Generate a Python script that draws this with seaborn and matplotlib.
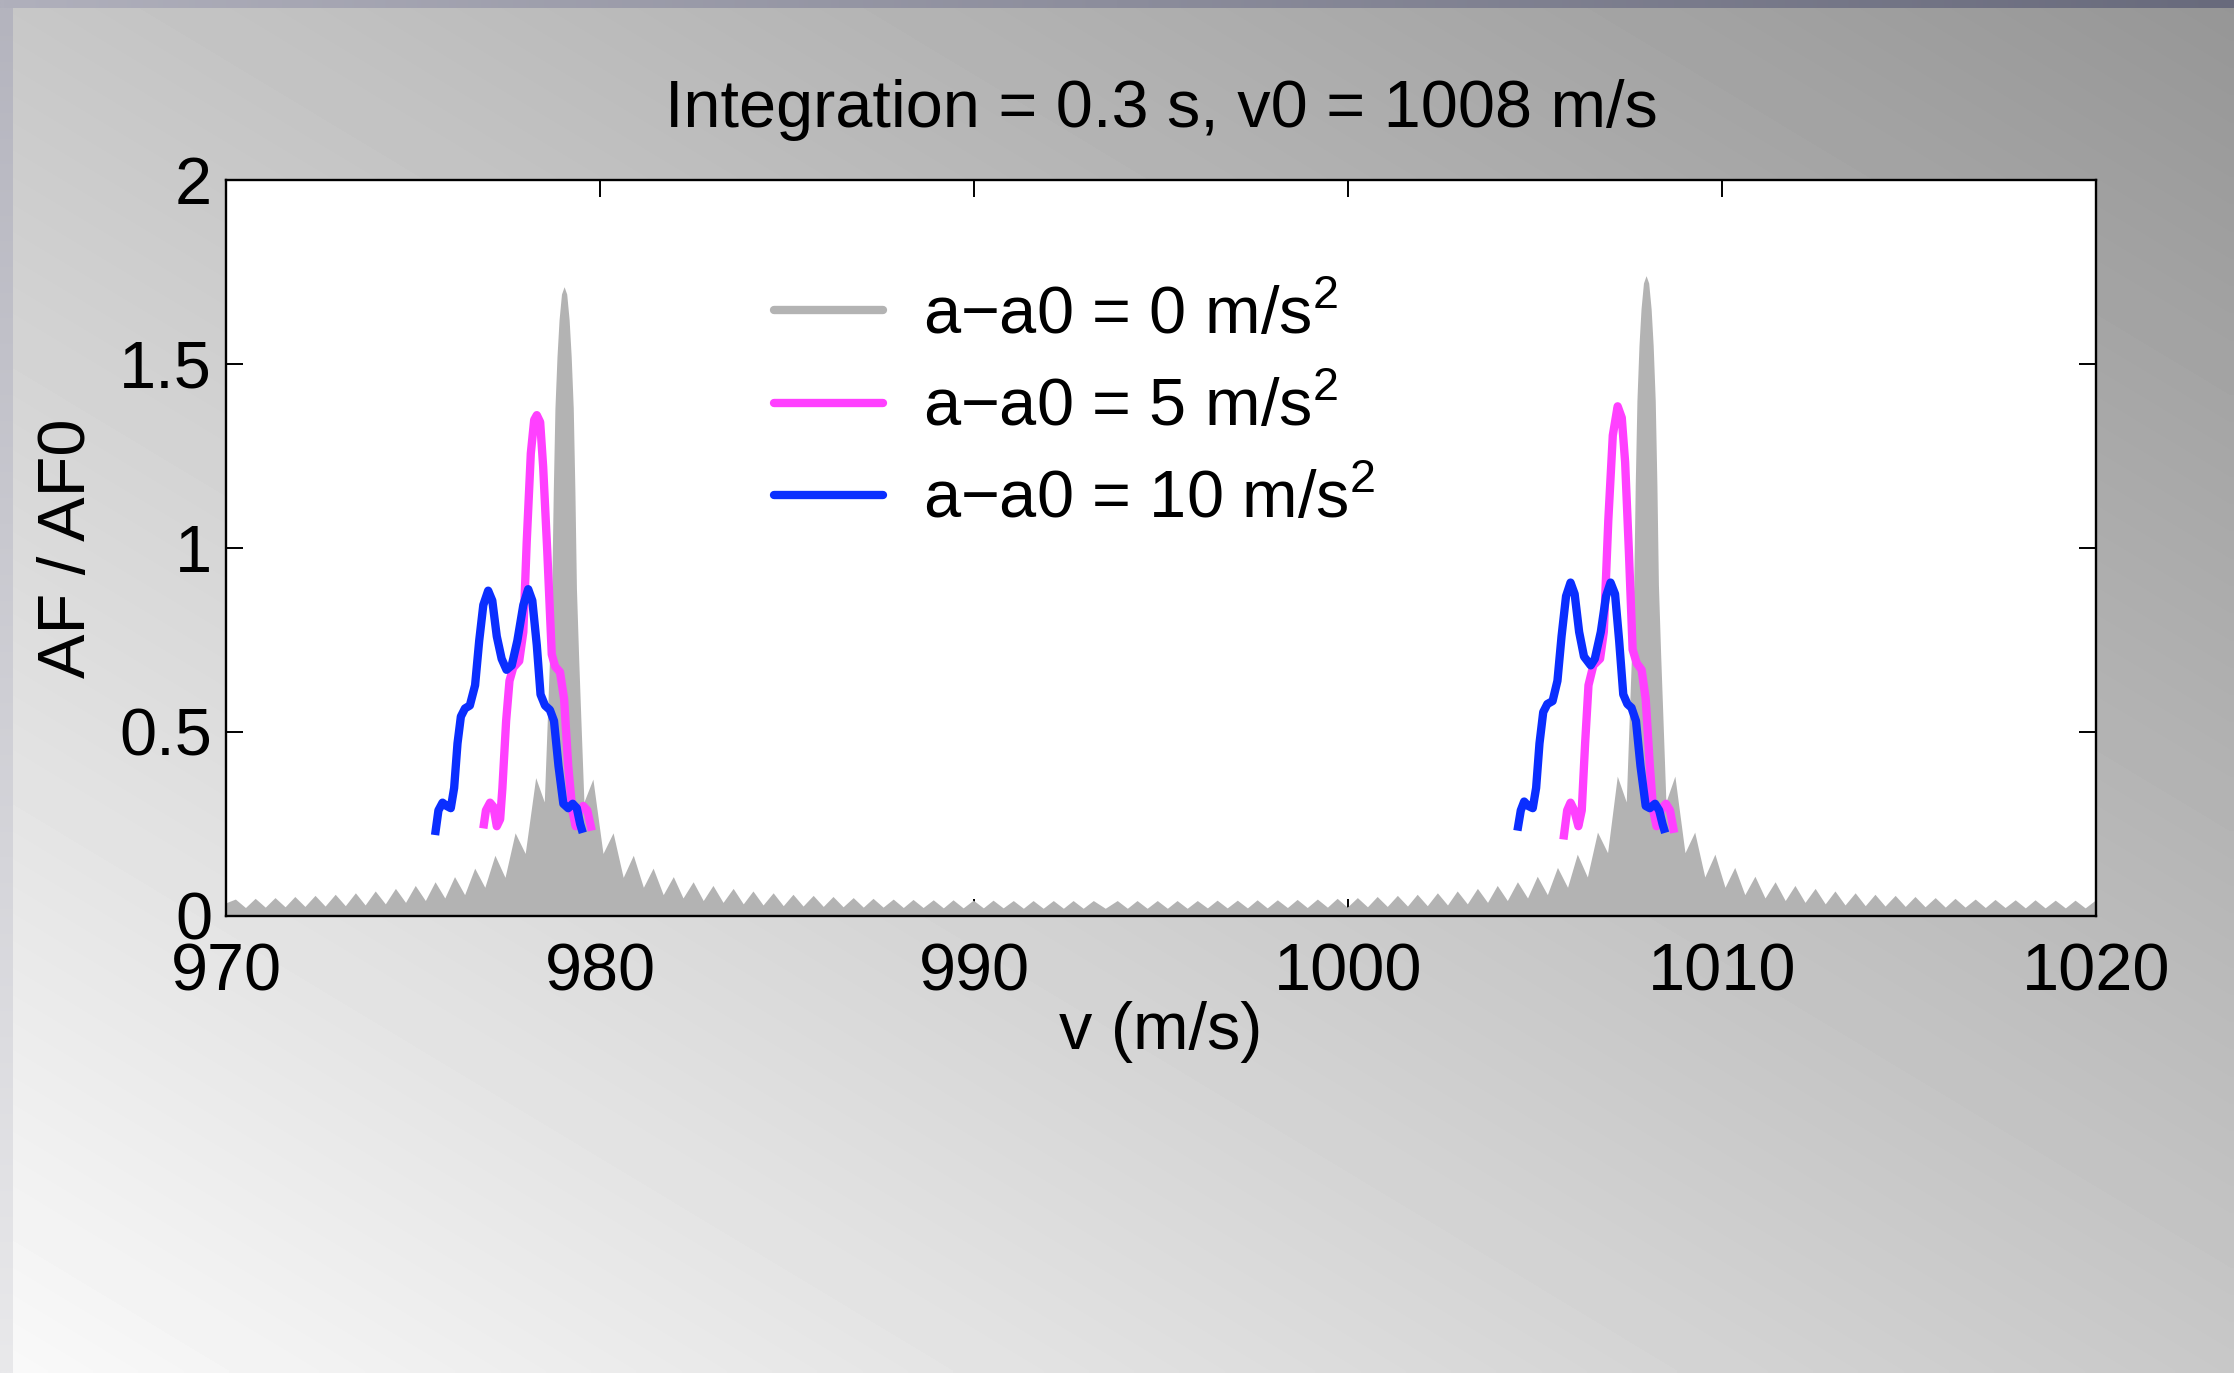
import numpy as np
import pandas as pd
import matplotlib
matplotlib.use("Agg")
import matplotlib.pyplot as plt
from matplotlib.lines import Line2D
import seaborn as sns

# ---------------- data ----------------
title_text = "Integration = 0.3 s, v0 = 1008 m/s"
x_ticks = [970, 980, 990, 1000, 1010, 1020]
y_ticks = [0, 0.5, 1, 1.5, 2]
y_tick_labels = ["0", "0.5", "1", "1.5", "2"]
series_labels = ["a\u2212a0 = 0 m/s$^{\\mathregular{2}}$",
                 "a\u2212a0 = 5 m/s$^{\\mathregular{2}}$",
                 "a\u2212a0 = 10 m/s$^{\\mathregular{2}}$"]

# a-a0 = 0 : filled grey array factor (peaks and cusps)
gray_v = [
    970.00, 970.25, 970.52, 970.78, 971.05, 971.31, 971.58, 971.84, 972.11, 972.38,
    972.65, 972.92, 973.19, 973.46, 973.72, 973.99, 974.26, 974.53, 974.80, 975.06,
    975.33, 975.59, 975.85, 976.11, 976.38, 976.65, 976.92, 977.19, 977.46, 977.73,
    978.00, 978.28, 978.51,
    978.59, 978.65, 978.71, 978.75, 978.795, 978.85, 978.905, 978.97, 979.04, 979.11,
    979.175, 979.23, 979.285, 979.33, 979.37, 979.43, 979.49, 979.57,
    979.81, 980.08, 980.35, 980.62, 980.89, 981.16, 981.42, 981.69, 981.96, 982.22,
    982.49, 982.76, 983.02, 983.29, 983.56, 983.83, 984.09, 984.36, 984.63, 984.90,
    985.16, 985.43, 985.70, 985.97, 986.23, 986.50, 986.77, 987.04, 987.30, 987.57,
    987.84, 988.11, 988.37, 988.64, 988.91, 989.18, 989.44, 989.71, 989.98, 990.25,
    990.51, 990.78, 991.05, 991.32, 991.58, 991.85, 992.12, 992.39, 992.65, 992.92,
    993.19, 993.51, 993.83, 994.10, 994.36, 994.63, 994.90, 995.17, 995.43, 995.70,
    995.97, 996.24, 996.50, 996.77, 997.04, 997.31, 997.57, 997.84, 998.11, 998.38,
    998.64, 998.91, 999.18, 999.45, 999.71, 999.98, 1000.25, 1000.52, 1000.78, 1001.05,
    1001.32, 1001.59, 1001.85, 1002.12, 1002.39, 1002.66, 1002.92, 1003.19, 1003.46, 1003.73,
    1003.99, 1004.26, 1004.53, 1004.80, 1005.06, 1005.33, 1005.60, 1005.87, 1006.13, 1006.40,
    1006.67, 1006.94, 1007.20, 1007.44,
    1007.52, 1007.58, 1007.64, 1007.68, 1007.725, 1007.78, 1007.835, 1007.90, 1007.97, 1008.04,
    1008.105, 1008.16, 1008.215, 1008.26, 1008.30, 1008.36, 1008.42, 1008.50,
    1008.74, 1009.01, 1009.27, 1009.54, 1009.81, 1010.08, 1010.34, 1010.61, 1010.88, 1011.15,
    1011.42, 1011.69, 1011.95, 1012.22, 1012.49, 1012.76, 1013.02, 1013.29, 1013.56, 1013.83,
    1014.09, 1014.36, 1014.63, 1014.90, 1015.16, 1015.43, 1015.70, 1015.97, 1016.23, 1016.50,
    1016.77, 1017.04, 1017.30, 1017.57, 1017.84, 1018.11, 1018.37, 1018.64, 1018.91, 1019.18,
    1019.44, 1019.71, 1019.98, 1020.00]
gray_af = [
    0.036, 0.046, 0.023, 0.048, 0.024, 0.050, 0.025, 0.053, 0.026, 0.056,
    0.027, 0.059, 0.028, 0.063, 0.030, 0.068, 0.033, 0.075, 0.037, 0.083,
    0.042, 0.093, 0.049, 0.107, 0.058, 0.130, 0.078, 0.165, 0.105, 0.226,
    0.170, 0.376, 0.310,
    0.530, 0.700, 0.890, 1.150, 1.380, 1.520, 1.620, 1.690, 1.710, 1.690,
    1.620, 1.520, 1.380, 1.150, 0.890, 0.700, 0.530, 0.310,
    0.372, 0.170, 0.226, 0.105, 0.165, 0.078, 0.130, 0.058, 0.107, 0.049,
    0.093, 0.042, 0.083, 0.037, 0.075, 0.033, 0.068, 0.030, 0.063, 0.028,
    0.059, 0.027, 0.056, 0.026, 0.053, 0.025, 0.050, 0.024, 0.048, 0.024,
    0.046, 0.023, 0.045, 0.023, 0.044, 0.022, 0.044, 0.022, 0.043, 0.022,
    0.043, 0.022, 0.042, 0.021, 0.042, 0.021, 0.042, 0.021, 0.042, 0.021,
    0.042, 0.021, 0.042, 0.021, 0.042, 0.021, 0.042, 0.021, 0.042, 0.021,
    0.042, 0.022, 0.043, 0.022, 0.043, 0.022, 0.044, 0.022, 0.044, 0.023,
    0.045, 0.023, 0.046, 0.024, 0.048, 0.024, 0.050, 0.025, 0.053, 0.026,
    0.056, 0.027, 0.059, 0.028, 0.063, 0.030, 0.068, 0.033, 0.075, 0.037,
    0.083, 0.042, 0.093, 0.049, 0.108, 0.058, 0.132, 0.078, 0.168, 0.106,
    0.228, 0.172, 0.380, 0.310,
    0.540, 0.710, 0.900, 1.170, 1.400, 1.550, 1.650, 1.720, 1.740, 1.720,
    1.650, 1.550, 1.400, 1.170, 0.900, 0.710, 0.540, 0.310,
    0.380, 0.172, 0.228, 0.106, 0.168, 0.078, 0.132, 0.058, 0.108, 0.049,
    0.093, 0.042, 0.083, 0.037, 0.075, 0.033, 0.068, 0.030, 0.063, 0.028,
    0.059, 0.027, 0.056, 0.026, 0.053, 0.025, 0.050, 0.024, 0.048, 0.024,
    0.046, 0.023, 0.045, 0.023, 0.044, 0.022, 0.044, 0.022, 0.043, 0.022,
    0.043, 0.022, 0.043, 0.043]

# a-a0 = 5 : magenta, two segments
mag_left_v = [976.88, 976.95, 977.06, 977.15, 977.24, 977.33, 977.39, 977.49, 977.58, 977.68,
              977.84, 977.95, 978.04, 978.15, 978.24, 978.31, 978.40, 978.48, 978.59, 978.71,
              978.80, 978.93, 979.04, 979.15, 979.26, 979.35, 979.45, 979.55, 979.66, 979.78]
mag_left_af = [0.238, 0.287, 0.308, 0.297, 0.244, 0.263, 0.347, 0.530, 0.639, 0.675,
               0.693, 0.772, 1.015, 1.257, 1.348, 1.361, 1.342, 1.221, 0.991, 0.711,
               0.678, 0.663, 0.590, 0.408, 0.287, 0.244, 0.287, 0.299, 0.287, 0.232]
mag_right_v = [1005.76, 1005.86, 1005.95, 1006.05, 1006.16, 1006.25, 1006.34, 1006.43, 1006.56, 1006.74,
               1006.84, 1006.96, 1007.08, 1007.21, 1007.32, 1007.41, 1007.51, 1007.61, 1007.72, 1007.85,
               1007.96, 1008.07, 1008.16, 1008.25, 1008.39, 1008.50, 1008.61, 1008.72]
mag_right_af = [0.208, 0.287, 0.308, 0.287, 0.244, 0.287, 0.469, 0.627, 0.681, 0.699,
                0.772, 1.075, 1.306, 1.385, 1.354, 1.233, 0.991, 0.724, 0.687, 0.669,
                0.590, 0.408, 0.287, 0.244, 0.293, 0.305, 0.287, 0.226]

# a-a0 = 10 : blue, two segments
blue_left_v = [975.59, 975.68, 975.79, 975.90, 976.01, 976.10, 976.19, 976.28, 976.39, 976.52,
               976.66, 976.77, 976.88, 977.01, 977.12, 977.24, 977.37, 977.50, 977.64, 977.79,
               977.95, 978.08, 978.19, 978.31, 978.41, 978.53, 978.66, 978.77, 978.89, 979.02,
               979.15, 979.27, 979.38, 979.47, 979.54]
blue_left_af = [0.220, 0.287, 0.308, 0.299, 0.293, 0.348, 0.469, 0.542, 0.564, 0.572,
                0.627, 0.748, 0.845, 0.884, 0.857, 0.760, 0.699, 0.669, 0.681, 0.748,
                0.845, 0.888, 0.857, 0.736, 0.602, 0.572, 0.560, 0.530, 0.408, 0.305,
                0.293, 0.305, 0.293, 0.250, 0.226]
blue_right_v = [1004.53, 1004.62, 1004.71, 1004.82, 1004.94, 1005.03, 1005.12, 1005.22, 1005.33, 1005.47,
                1005.60, 1005.71, 1005.83, 1005.95, 1006.06, 1006.18, 1006.31, 1006.49, 1006.60, 1006.76,
                1006.90, 1007.02, 1007.14, 1007.25, 1007.36, 1007.47, 1007.58, 1007.70, 1007.82, 1007.96,
                1008.07, 1008.21, 1008.32, 1008.41, 1008.48]
blue_right_af = [0.232, 0.287, 0.311, 0.299, 0.293, 0.348, 0.469, 0.554, 0.576, 0.584,
                 0.639, 0.760, 0.869, 0.906, 0.875, 0.772, 0.705, 0.681, 0.699, 0.772,
                 0.869, 0.906, 0.875, 0.748, 0.602, 0.576, 0.566, 0.530, 0.408, 0.299,
                 0.293, 0.305, 0.287, 0.250, 0.226]

# ---------------- style ----------------
sns.set_theme(style="white")
plt.rcParams["font.family"] = ["Liberation Sans", "DejaVu Sans"]
plt.rcParams["mathtext.fontset"] = "custom"
plt.rcParams["mathtext.rm"] = "Liberation Sans"
plt.rcParams["mathtext.it"] = "Liberation Sans:italic"
plt.rcParams["mathtext.bf"] = "Liberation Sans:bold"

FS = 48
GRAY = "#b3b3b3"
MAGENTA = "#ff40ff"
BLUE = "#0a2eff"
LW = 6.0

W_PX, H_PX, DPI = 2234, 1373, 100
fig = plt.figure(figsize=(W_PX / DPI, H_PX / DPI), dpi=DPI)

# background gradient (light bottom-left -> dark top-right)
bg = fig.add_axes([0, 0, 1, 1])
gx = np.linspace(0, 1, 300)
gy = np.linspace(0, 1, 300)
GX, GY = np.meshgrid(gx, gy)
grad = 249 - 49 * GX - 50 * GY
bg.imshow(grad, extent=[0, 1, 0, 1], origin="lower", aspect="auto",
          cmap="gray", vmin=0, vmax=255, interpolation="bilinear")
# top strip (blue-grey gradient)
top = np.zeros((2, 300, 3))
c_l = np.array([176, 176, 188]) / 255.0
c_r = np.array([104, 106, 124]) / 255.0
for i, t in enumerate(np.linspace(0, 1, 300)):
    top[:, i, :] = c_l * (1 - t) + c_r * t
th = 8 / H_PX
bg.imshow(top, extent=[0, 1, 1 - th, 1], origin="lower", aspect="auto", interpolation="bilinear")
# left strip
left = np.zeros((300, 2, 3))
c_t = np.array([180, 180, 190]) / 255.0
c_b = np.array([233, 233, 235]) / 255.0
for i, t in enumerate(np.linspace(0, 1, 300)):
    left[i, :, :] = c_b * (1 - t) + c_t * t
lw_ = 12 / W_PX
bg.imshow(left, extent=[0, lw_, 0, 1 - th], origin="lower", aspect="auto", interpolation="bilinear")
bg.set_xlim(0, 1)
bg.set_ylim(0, 1)
bg.axis("off")

# main axes
ax_l, ax_r, ax_t, ax_b = 226, 2096, 180, 916
ax = fig.add_axes([ax_l / W_PX, 1 - ax_b / H_PX, (ax_r - ax_l) / W_PX, (ax_b - ax_t) / H_PX])
ax.set_facecolor("white")

ax.fill_between(gray_v, gray_af, 0, color=GRAY, linewidth=0, zorder=1)

segments = [
    (mag_left_v, mag_left_af, MAGENTA),
    (mag_right_v, mag_right_af, MAGENTA),
    (blue_left_v, blue_left_af, BLUE),
    (blue_right_v, blue_right_af, BLUE),
]
for v, a, c in segments:
    df = pd.DataFrame({"v": v, "af": a})
    sns.lineplot(data=df, x="v", y="af", ax=ax, color=c, linewidth=LW, sort=False,
                 legend=False, zorder=3, solid_capstyle="butt", solid_joinstyle="round")

ax.set_xlim(970, 1020)
ax.set_ylim(0, 2)
ax.set_xticks(x_ticks)
ax.set_xticklabels([str(t) for t in x_ticks])
ax.set_yticks(y_ticks)
ax.set_yticklabels(y_tick_labels)

ax.tick_params(axis="both", which="major", direction="in", length=12, width=1.4,
               color="black", labelsize=FS, labelcolor="black",
               top=True, right=True, bottom=True, left=True)
ax.tick_params(axis="x", pad=19)
ax.tick_params(axis="y", pad=10)
for s in ax.spines.values():
    s.set_visible(True)
    s.set_color("black")
    s.set_linewidth(1.7)

ax.set_xlabel("v (m/s)", fontsize=FS, color="black")
ax.set_ylabel("AF / AF0", fontsize=FS, color="black")
ax.xaxis.set_label_coords(0.5, -0.115)
ax.yaxis.set_label_coords(-0.068, 0.5)
ax.set_title(title_text, fontsize=FS, color="black", pad=38)

handles = [Line2D([], [], color=GRAY, linewidth=LW),
           Line2D([], [], color=MAGENTA, linewidth=LW),
           Line2D([], [], color=BLUE, linewidth=LW)]
leg = ax.legend(handles, series_labels, loc="center left", bbox_to_anchor=(0.293, 0.689),
                frameon=False, fontsize=FS, handlelength=1.63, handletextpad=0.6,
                labelspacing=0.45, borderpad=0, borderaxespad=0)
for t in leg.get_texts():
    t.set_color("black")

fig.savefig("out.png", dpi=DPI)
